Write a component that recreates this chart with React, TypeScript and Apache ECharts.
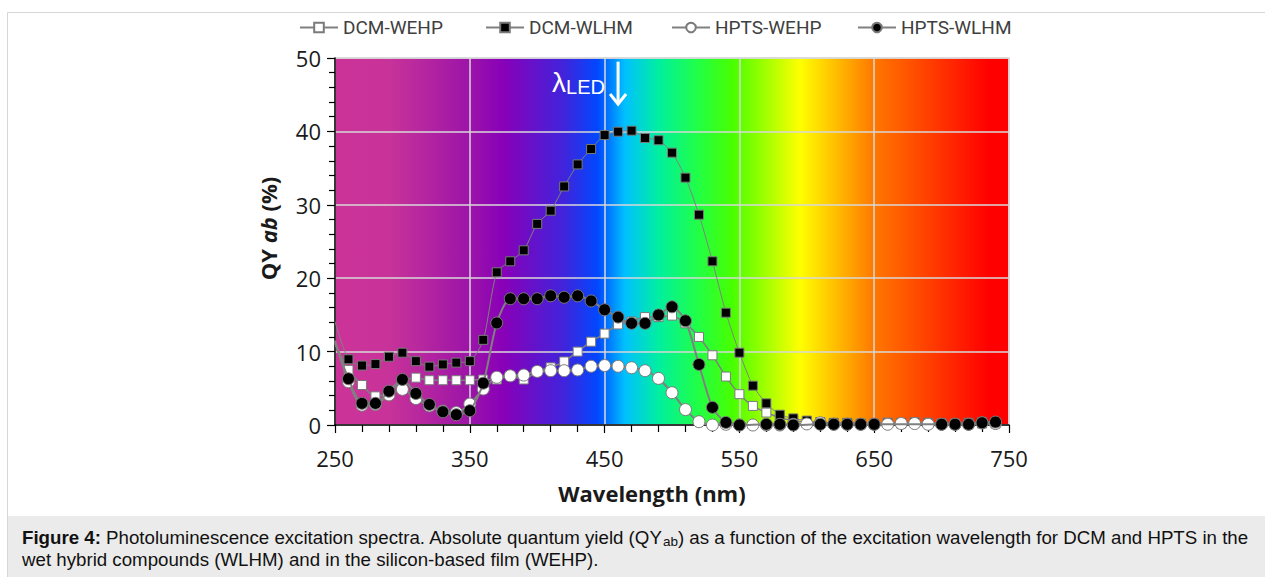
import React, { useEffect, useRef } from "react";
import * as echarts from "echarts";

const wavelengths = [
  250, 260, 270, 280, 290, 300, 310, 320, 330, 340, 350, 360, 370, 380, 390, 400, 410, 420, 430, 440,
  450, 460, 470, 480, 490, 500, 510, 520, 530, 540, 550, 560, 570, 580, 590, 600, 610, 620, 630, 640,
  650, 660, 670, 680, 690, 700, 710, 720, 730, 740,
];

const dcmWehp = [
  11.0, 7.5, 5.45, 3.9, 4.4, 6.0, 6.45, 6.1, 6.1, 6.1, 6.1, 6.2, 6.2, 6.7, 6.2, 7.3, 7.85, 8.65, 10.0, 11.35,
  12.45, 13.7, 14.1, 14.7, 14.7, 14.9, 13.85, 12.0, 9.5, 6.6, 4.2, 2.6, 1.7, 1.0, 0.6, 0.4, 0.3, 0.2, 0.2, 0.1,
  0.1, 0.3, 0.2, 0.3, 0.3, 0.2, 0.1, 0.1, 0.2, 0.2,
];

const dcmWlhm = [
  14.1, 8.95, 8.1, 8.3, 9.3, 9.85, 8.7, 7.95, 8.25, 8.5, 8.7, 11.6, 20.8, 22.3, 23.8, 27.4, 29.2, 32.5, 35.5, 37.6,
  39.5, 39.96, 40.1, 39.1, 38.8, 37.1, 33.7, 28.65, 22.3, 15.3, 9.85, 5.36, 2.95, 1.4, 0.9, 0.6, 0.4, 0.3, 0.3, 0.2,
  0.2, 0.3, 0.3, 0.4, 0.3, 0.2, 0.2, 0.3, 0.4, 0.4,
];

const hptsWehp = [
  11.5, 5.9, 2.7, 2.8, 4.1, 4.85, 3.6, 2.6, 1.9, 1.7, 2.85, 4.9, 6.5, 6.7, 6.8, 7.3, 7.4, 7.4, 7.5, 8.0,
  8.1, 8.0, 7.8, 7.4, 6.35, 4.4, 2.1, 0.45, 0.0, 0.1, 0.0, 0.0, 0.0, 0.0, 0.1, 0.15, 0.3, 0.1, 0.1, 0.1,
  0.1, 0.1, 0.2, 0.2, 0.1, 0.1, 0.1, 0.1, 0.3, 0.2,
];

const hptsWlhm: (number | null)[] = [
  11.3, 6.3, 2.95, 2.95, 4.6, 6.2, 4.3, 2.8, 1.8, 1.4, 1.95, 5.7, 13.9, 17.2, 17.2, 17.2, 17.6, 17.4, 17.6, 16.9,
  15.7, 14.7, 13.85, 13.85, 15.0, 16.1, 14.2, 8.25, 2.4, 0.35, 0.0, null, 0.1, 0.1, 0.0, null, 0.1, 0.1, 0.1, 0.1,
  0.1, null, null, null, null, 0.1, 0.1, 0.1, 0.3, 0.4,
];

const seriesNames = ["DCM-WEHP", "DCM-WLHM", "HPTS-WEHP", "HPTS-WLHM"];
const ledWavelength = 460;
const ledArrowTop = 49.5;
const ledArrowTip = 43.6;

const spectrumStops = [
  { offset: 0, color: "#cc3399" },
  { offset: 0.08, color: "#c83399" },
  { offset: 0.2, color: "#9c14a8" },
  { offset: 0.25, color: "#8800b8" },
  { offset: 0.34, color: "#4024dc" },
  { offset: 0.39, color: "#0048ff" },
  { offset: 0.43, color: "#00c0ff" },
  { offset: 0.48, color: "#00efa0" },
  { offset: 0.54, color: "#22ff44" },
  { offset: 0.59, color: "#48ff00" },
  { offset: 0.69, color: "#ffff00" },
  { offset: 0.8, color: "#ff7700" },
  { offset: 0.97, color: "#ff0000" },
  { offset: 1, color: "#ff0000" },
];

function toData(vals: (number | null)[]) {
  return wavelengths.map((w, i) => {
    const v = vals[i];
    if (v === null) return { value: [w, "-"] };
    if (i === 0) return { value: [w, v], symbol: "none" };
    return { value: [w, v] };
  });
}

export default function App() {
  const ref = useRef<HTMLDivElement>(null);
  useEffect(() => {
    if (!ref.current) return;
    const chart = echarts.init(ref.current, undefined, { renderer: "svg" });
    const tickFont = "'Open Sans', sans-serif";
    const capFont = "'Liberation Sans', Arial, sans-serif";
    const lineGray = "#808080";
    const mk = (
      name: string,
      vals: (number | null)[],
      symbol: string,
      size: number,
      fill: string,
      width: number,
      z: number
    ) => ({
      name,
      type: "line",
      data: toData(vals),
      symbol,
      symbolSize: size,
      showAllSymbol: true,
      smooth: 0.25,
      connectNulls: true,
      z,
      lineStyle: { color: lineGray, width },
      itemStyle: { color: fill, borderColor: "#7a7a7a", borderWidth: 1 },
      emphasis: { disabled: true },
    });

    const option: any = {
      animation: false,
      legend: seriesNames.map((n, i) => ({
        top: 13,
        left: 294 + 186 * i,
        itemWidth: 38,
        itemHeight: 12,
        data: [n],
        textStyle: {
          fontFamily: "Roboto, sans-serif",
          fontSize: 19,
          color: "#404040",
        },
      })),
      grid: {
        left: 335,
        right: 256,
        top: 58,
        bottom: 152,
        show: true,
        borderWidth: 1.5,
        borderColor: "#d9d9d9",
        backgroundColor: new echarts.graphic.LinearGradient(0, 0, 1, 0, spectrumStops),
      },
      xAxis: {
        type: "value",
        min: 250,
        max: 750,
        interval: 100,
        name: "Wavelength (nm)",
        nameLocation: "middle",
        nameGap: 57,
        nameTextStyle: {
          fontFamily: tickFont,
          fontWeight: "bold",
          fontSize: 22,
          color: "#1a1a1a",
          padding: [0, 40, 0, 0],
        },
        axisLine: { lineStyle: { color: "#000", width: 1.5 } },
        axisTick: { length: 8, lineStyle: { color: "#000", width: 1.2 } },
        minorTick: { show: true, splitNumber: 5, length: 7, lineStyle: { color: "#000", width: 1.2 } },
        axisLabel: { fontFamily: tickFont, fontSize: 22, color: "#1a1a1a", margin: 22 },
        splitLine: { show: true, lineStyle: { color: "#d9d9d9", width: 1.5 } },
      },
      yAxis: {
        type: "value",
        min: 0,
        max: 50,
        interval: 10,
        name: "{b|QY }{i|ab}{b| (%)}",
        nameLocation: "middle",
        nameGap: 56,
        nameTextStyle: {
          padding: [0, 0, 0, 26],
          rich: {
            b: { fontFamily: tickFont, fontWeight: "bold", fontSize: 22, color: "#1a1a1a" },
            i: { fontFamily: tickFont, fontWeight: "bold", fontStyle: "italic", fontSize: 22, color: "#1a1a1a" },
          },
        },
        axisLine: { show: true, lineStyle: { color: "#000", width: 1.5 } },
        axisTick: { show: true, length: 8, lineStyle: { color: "#000", width: 1.2 } },
        minorTick: { show: true, splitNumber: 5, length: 6, lineStyle: { color: "#000", width: 1.2 } },
        axisLabel: { fontFamily: tickFont, fontSize: 22, color: "#1a1a1a", margin: 14 },
        splitLine: { show: true, lineStyle: { color: "#d9d9d9", width: 1.5 } },
      },
      series: [
        mk(seriesNames[0], dcmWehp, "rect", 9, "#ffffff", 1.5, 2),
        mk(seriesNames[1], dcmWlhm, "rect", 9, "#000000", 1, 3),
        mk(seriesNames[2], hptsWehp, "circle", 12, "#ffffff", 2, 4),
        mk(seriesNames[3], hptsWlhm, "circle", 12, "#000000", 2, 5),
      ],
      graphic: [
        {
          type: "rect",
          silent: true,
          z: -10,
          shape: { x: 7.5, y: 12.5, width: 1270, height: 600 },
          style: { fill: "none", stroke: "#d6d6d6", lineWidth: 1 },
        },
        {
          type: "rect",
          silent: true,
          z: -9,
          shape: { x: 8, y: 516, width: 1257, height: 61 },
          style: { fill: "#ebebeb" },
        },
        {
          type: "text",
          left: 22,
          top: 528,
          z: 10,
          style: {
            text:
              "{b|Figure 4:}{t| Photoluminescence excitation spectra. Absolute quantum yield (QY}{s|ab}{t|) as a function of the excitation wavelength for DCM and HPTS in the}\n{t|wet hybrid compounds (WLHM) and in the silicon-based film (WEHP).}",
            rich: {
              b: { fontFamily: capFont, fontWeight: "bold", fontSize: 18.7, fill: "#111", lineHeight: 22, verticalAlign: "middle" },
              t: { fontFamily: capFont, fontSize: 18.7, fill: "#111", lineHeight: 22, verticalAlign: "middle" },
              s: { fontFamily: capFont, fontSize: 13.5, fill: "#111", lineHeight: 11, verticalAlign: "bottom" },
            },
          },
        },
      ],
    };
    chart.setOption(option);

    // LED arrow and label placed through the chart's own coordinate system
    const top = chart.convertToPixel({ gridIndex: 0 }, [ledWavelength, ledArrowTop]) as number[];
    const tip = chart.convertToPixel({ gridIndex: 0 }, [ledWavelength, ledArrowTip]) as number[];
    chart.setOption({
      graphic: [
        {
          type: "line",
          id: "ledShaft",
          silent: true,
          z: 20,
          shape: { x1: top[0], y1: top[1], x2: tip[0], y2: tip[1] - 2 },
          style: { stroke: "#ffffff", lineWidth: 3 },
        },
        {
          type: "polyline",
          id: "ledHead",
          silent: true,
          z: 20,
          shape: { points: [[tip[0] - 8, tip[1] - 11], [tip[0], tip[1] - 1], [tip[0] + 8, tip[1] - 11]] },
          style: { stroke: "#ffffff", lineWidth: 3, fill: "none", lineJoin: "miter" },
        },
        {
          type: "text",
          id: "ledLabel",
          silent: true,
          z: 20,
          x: top[0] - 66,
          y: top[1] + 3,
          style: {
            text: "{l|λ}{s|LED}",
            rich: {
              l: { fontFamily: capFont, fontSize: 28, fill: "#ffffff", verticalAlign: "bottom", lineHeight: 32 },
              s: { fontFamily: capFont, fontSize: 20, fill: "#ffffff", verticalAlign: "bottom", lineHeight: 26 },
            },
          },
        },
      ],
    });
    return () => chart.dispose();
  }, []);
  return (
    <div
      ref={ref}
      style={{ position: "fixed", left: 0, top: 0, width: 1265, height: 577, background: "#ffffff" }}
    />
  );
}
